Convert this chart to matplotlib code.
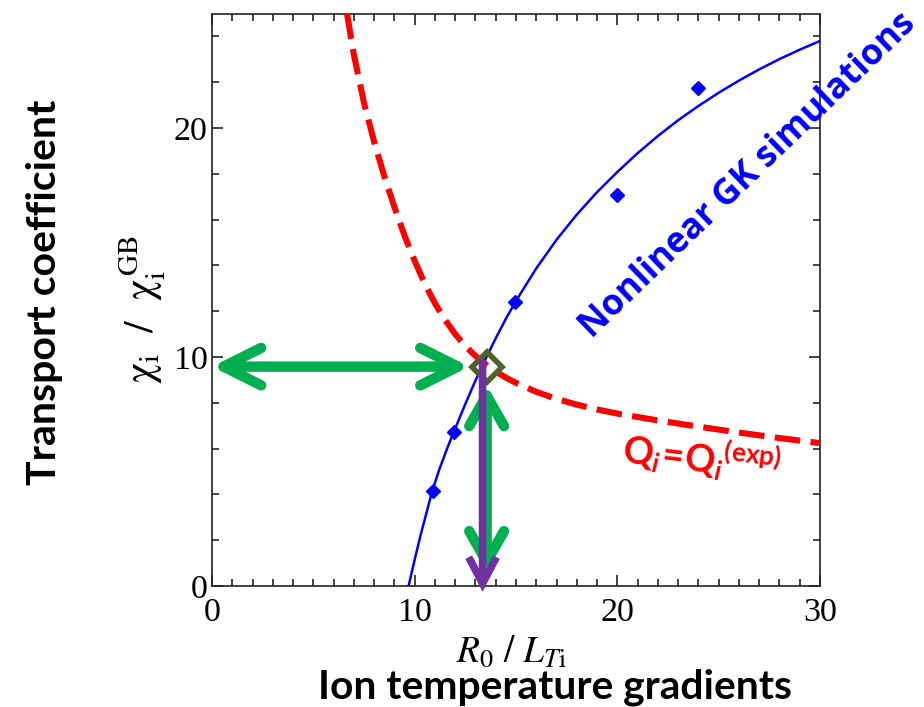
import matplotlib
matplotlib.use("Agg")
import matplotlib.pyplot as plt
from matplotlib.patches import FancyArrowPatch
from matplotlib.ticker import MultipleLocator

# fitted curve through the nonlinear GK runs
gk_x = [9.7, 10.0, 10.3, 10.6, 10.85, 11.2, 11.6, 11.94, 12.5, 13.0, 13.5, 14.0, 14.5, 15.0,
        16.0, 17.0, 18.0, 19.0, 20.0, 21.0, 22.0, 23.0, 24.0, 25.0, 26.0, 27.0, 28.0, 29.0, 30.0]
gk_y = [0.0, 1.15, 2.25, 3.25, 4.1, 5.05, 6.0, 6.75, 7.95, 8.97, 9.92, 10.82, 11.67, 12.45,
        13.87, 15.12, 16.22, 17.2, 18.08, 18.9, 19.65, 20.34, 20.96, 21.54, 22.07, 22.56, 23.01, 23.42, 23.8]

# nonlinear GK runs
sim_x = [10.9, 11.95, 14.95, 20.0, 24.0]
sim_y = [4.15, 6.74, 12.4, 17.07, 21.75]

# Qi = Qi(exp) constraint
qexp_x = [6.66, 7.0, 7.5, 8.0, 8.5, 9.0, 9.5, 10.0, 10.5, 11.0, 11.5, 12.0, 12.5, 13.0, 13.5,
          14.0, 14.5, 15.0, 16.0, 17.0, 18.0, 19.0, 20.0, 22.0, 24.0, 26.0, 28.0, 30.0]
qexp_y = [25.0, 23.2, 21.1, 19.4, 17.9, 16.55, 15.3, 14.2, 13.2, 12.35, 11.62, 11.0, 10.48, 10.05, 9.68,
          9.37, 9.1, 8.87, 8.48, 8.17, 7.92, 7.71, 7.53, 7.23, 6.96, 6.7, 6.46, 6.24]

# operating point where the two curves cross
op_x, op_y = 13.55, 9.58

BLUE = "#0000ff"
RED = "#ff0000"
GREEN = "#00b050"
PURPLE = "#7030a0"
OLIVE = "#4f6228"

W, H = 924, 707
fig = plt.figure(figsize=(W / 100, H / 100), dpi=100)
ax = fig.add_axes([212 / W, 121 / H, 608 / W, 572.5 / H])


def fx(px):
    return px / W


def fy(py):
    return 1 - py / H


# arrows from the operating point to both axes
ax.add_patch(FancyArrowPatch((0, op_y), (op_x - 0.85, op_y),
                             arrowstyle="<->,head_length=27,head_width=13.5",
                             mutation_scale=1, lw=7.5, color=GREEN,
                             capstyle="round", joinstyle="round",
                             shrinkA=0, shrinkB=0, zorder=3, clip_on=False))
ax.add_patch(FancyArrowPatch((op_x, op_y - 0.8), (op_x, 0.6),
                             arrowstyle="<->,head_length=22,head_width=12.5",
                             mutation_scale=1, lw=7.5, color=GREEN,
                             capstyle="round", joinstyle="round",
                             shrinkA=0, shrinkB=0, zorder=3, clip_on=False))

ax.plot(qexp_x, qexp_y, color=RED, lw=4.4, ls=(0, (4.2, 1.7)), zorder=4)
ax.plot(gk_x, gk_y, color=BLUE, lw=1.8, zorder=5)
ax.plot(sim_x, sim_y, ls="none", marker="D", ms=7.5, mfc=BLUE, mec=BLUE, zorder=5)

ax.plot(op_x, op_y, marker="D", ms=15.5, mfc="none", mec=OLIVE, mew=4, zorder=6)

ax.add_patch(FancyArrowPatch((op_x - 0.2, op_y + 0.3), (op_x - 0.2, -0.25),
                             arrowstyle="->,head_length=19,head_width=10",
                             mutation_scale=1, lw=5.5, color=PURPLE,
                             capstyle="butt", joinstyle="miter",
                             shrinkA=0, shrinkB=0, zorder=7, clip_on=False))

ax.set_xlim(0, 30)
ax.set_ylim(0, 25)
ax.xaxis.set_major_locator(MultipleLocator(10))
ax.xaxis.set_minor_locator(MultipleLocator(1))
ax.yaxis.set_major_locator(MultipleLocator(10))
ax.yaxis.set_minor_locator(MultipleLocator(2))
ax.tick_params(which="both", direction="in", top=True, right=True,
               color="#222222", width=1.2)
ax.tick_params(which="major", length=8, labelsize=24.5,
               labelfontfamily="Liberation Serif")
ax.tick_params(axis="x", which="major", pad=8)
ax.tick_params(axis="y", which="major", pad=3)
ax.tick_params(which="minor", length=5)
for s in ax.spines.values():
    s.set_linewidth(1.2)
    s.set_color("#222222")

# axis titles
fig.text(fx(511), fy(652), r"$R_0\ /\ L_{T\mathrm{i}}$", ha="center", va="center",
         fontsize=27, math_fontfamily="stix")
fig.text(fx(555), fy(687), "Ion temperature gradients", ha="center", va="center",
         fontsize=29.3, fontfamily="Lato", fontweight="bold")
fig.text(fx(143), fy(310), r"$\mathrm{\chi_i\ \ /\ \ \chi_i^{\,GB}}$", ha="center", va="center",
         rotation=90, fontsize=30, math_fontfamily="stix")
fig.text(fx(45), fy(292), "Transport coefficient", ha="center", va="center",
         rotation=90, fontsize=29.5, fontfamily="Lato", fontweight="bold")

# curve annotations
plt.rcParams["mathtext.fontset"] = "custom"
plt.rcParams["mathtext.bf"] = "Lato:bold"
plt.rcParams["mathtext.bfit"] = "Lato:bold:italic"
fig.text(fx(748), fy(176), "Nonlinear GK simulations", ha="center", va="center",
         rotation=44, rotation_mode="anchor", fontsize=25.5,
         fontfamily="Open Sans", fontweight="bold", color=BLUE)
fig.text(fx(702), fy(458),
         r"$\mathbf{Q}_{\mathbfit{i}}\!\mathbf{=}\!\mathbf{Q}_{\mathbfit{i}}{}^{\mathbf{(exp)}}$",
         ha="center", va="center", rotation=-7, rotation_mode="anchor",
         fontsize=27, color=RED, math_fontfamily="custom")

fig.savefig("out.png", dpi=100)
